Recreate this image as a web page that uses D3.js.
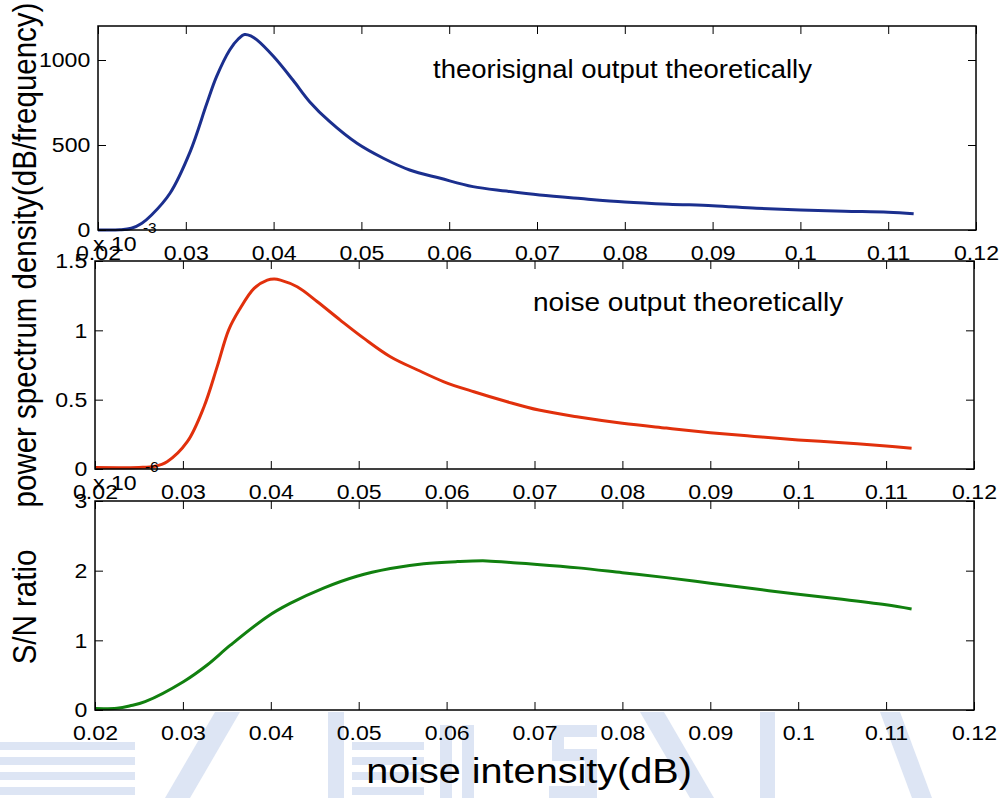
<!DOCTYPE html>
<html>
<head>
<meta charset="utf-8">
<script src="https://cdn.jsdelivr.net/npm/d3@7"></script>
<style>
  body { margin: 0; background: #fff; }
  text { font-family: "Liberation Sans", Arial, Helvetica, sans-serif; fill: #000; }
</style>
</head>
<body>
<svg id="chart" width="1004" height="798"></svg>
<script>
// --- data ---
const xTickValues = [0.02, 0.03, 0.04, 0.05, 0.06, 0.07, 0.08, 0.09, 0.1, 0.11, 0.12];
const xTickLabels = ["0.02", "0.03", "0.04", "0.05", "0.06", "0.07", "0.08", "0.09", "0.1", "0.11", "0.12"];

// signal output (top panel)
const signalX = [0.020, 0.0225, 0.0238, 0.0250, 0.0261, 0.0282, 0.0305, 0.0324, 0.0335, 0.0350, 0.0360, 0.0367, 0.0374, 0.0381,
  0.0400, 0.0422, 0.0441, 0.0464, 0.0495, 0.0525, 0.0555, 0.0590, 0.0627, 0.0665, 0.0703,
  0.075, 0.080, 0.085, 0.090, 0.095, 0.100, 0.105, 0.110, 0.1129];
const signalY = [0, 1, 10, 40, 88, 216, 461, 745, 902, 1059, 1125, 1150, 1142, 1118,
  1020, 882, 755, 637, 510, 422, 353, 304, 255, 229, 206,
  185, 165, 152, 143, 128, 117, 110, 105, 96];

// noise output (middle panel, x 10^-3)
const noiseX = [0.020, 0.0250, 0.0268, 0.0282, 0.0305, 0.0324, 0.0339, 0.0352, 0.0364, 0.0381, 0.0396, 0.0404, 0.0411,
  0.0430, 0.0453, 0.0479, 0.0506, 0.0536, 0.0567, 0.0597, 0.0631, 0.0669, 0.0705,
  0.075, 0.080, 0.085, 0.090, 0.095, 0.100, 0.105, 0.110, 0.1129];
const noiseY = [0.01, 0.011, 0.02, 0.053, 0.197, 0.449, 0.738, 1.002, 1.146, 1.303, 1.362, 1.37, 1.362,
  1.314, 1.206, 1.074, 0.942, 0.810, 0.714, 0.629, 0.557, 0.485, 0.425,
  0.375, 0.33, 0.295, 0.262, 0.235, 0.21, 0.19, 0.165, 0.15];

// S/N ratio (bottom panel, x 10^-6)
const snrX = [0.020, 0.0225, 0.0240, 0.0257, 0.0301, 0.0328, 0.0354, 0.0396, 0.0422, 0.0460, 0.0498, 0.0536, 0.0574, 0.0612,
  0.0646, 0.0680, 0.0703, 0.075, 0.080, 0.085, 0.090, 0.095, 0.100, 0.105, 0.110, 0.1129];
const snrY = [0.02, 0.025, 0.06, 0.12, 0.41, 0.65, 0.93, 1.34, 1.53, 1.75, 1.92, 2.03, 2.10, 2.13,
  2.14, 2.11, 2.09, 2.04, 1.97, 1.90, 1.82, 1.74, 1.66, 1.59, 1.51, 1.45];

const panels = [
  { left: 98, right: 976, top: 26, bottom: 230, yMax: 1200,
    yTicks: [0, 500, 1000], yLabels: ["0", "500", "1000"],
    xs: signalX, ys: signalY, color: "#1b2f8e" },
  { left: 95, right: 974, top: 261, bottom: 469, yMax: 1.5,
    yTicks: [0, 0.5, 1, 1.5], yLabels: ["0", "0.5", "1", "1.5"],
    xs: noiseX, ys: noiseY, color: "#e1300c" },
  { left: 95, right: 974, top: 501, bottom: 710, yMax: 3,
    yTicks: [0, 1, 2, 3], yLabels: ["0", "1", "2", "3"],
    xs: snrX, ys: snrY, color: "#11800f" }
];

const STRETCH = "scale(1.1,1)";
const svg = d3.select("#chart");

// faint logo watermark behind the lower part of the figure
const wm = svg.append("g").attr("fill", "#dde5f4");
[742, 757, 772, 787].forEach(yy => {
  wm.append("rect").attr("x", 0).attr("y", yy).attr("width", 135).attr("height", 8);
  wm.append("rect").attr("x", 352).attr("y", yy).attr("width", 72).attr("height", 8);
});
wm.append("polygon").attr("points", "165,798 190,798 240,712 215,712");
wm.append("rect").attr("x", 328).attr("y", 712).attr("width", 16).attr("height", 86);
wm.append("rect").attr("x", 440).attr("y", 725).attr("width", 12).attr("height", 73);
wm.append("rect").attr("x", 462).attr("y", 725).attr("width", 12).attr("height", 73);
wm.append("path").attr("d", "M552,725 h45 v12 h-33 v12 h33 v49 h-48 v-12 h36 v-25 h-33 z");
wm.append("polygon").attr("points", "640,712 664,712 714,798 690,798");
wm.append("rect").attr("x", 760).attr("y", 712).attr("width", 15).attr("height", 86);
wm.append("polygon").attr("points", "880,712 900,712 932,798 912,798");

panels.forEach(p => {
  const x = d3.scaleLinear().domain([0.02, 0.12]).range([p.left, p.right]);
  const y = d3.scaleLinear().domain([0, p.yMax]).range([p.bottom, p.top]);
  const g = svg.append("g");

  // curve
  const line = d3.line()
    .x((d, i) => x(p.xs[i]))
    .y(d => y(d))
    .curve(d3.curveCatmullRom.alpha(0.5));
  g.append("path")
    .datum(p.ys)
    .attr("d", line)
    .attr("fill", "none")
    .attr("stroke", p.color)
    .attr("stroke-width", 3)
    .attr("stroke-linejoin", "round");

  // axes, ticks pointing inwards like matlab
  const bottomAxis = g.append("g")
    .attr("transform", `translate(0,${p.bottom})`)
    .call(d3.axisBottom(x).tickValues(xTickValues)
      .tickFormat((d, i) => xTickLabels[i])
      .tickSizeInner(-8).tickSizeOuter(0).tickPadding(15));
  const topAxis = g.append("g")
    .attr("transform", `translate(0,${p.top})`)
    .call(d3.axisTop(x).tickValues(xTickValues).tickFormat("")
      .tickSizeInner(-8).tickSizeOuter(0));
  const leftAxis = g.append("g")
    .attr("transform", `translate(${p.left},0)`)
    .call(d3.axisLeft(y).tickValues(p.yTicks)
      .tickFormat((d, i) => p.yLabels[i])
      .tickSizeInner(-8).tickSizeOuter(0).tickPadding(7));
  const rightAxis = g.append("g")
    .attr("transform", `translate(${p.right},0)`)
    .call(d3.axisRight(y).tickValues(p.yTicks).tickFormat("")
      .tickSizeInner(-8).tickSizeOuter(0));

  [bottomAxis, topAxis, leftAxis, rightAxis].forEach(a => {
    a.select(".domain").remove();
    a.selectAll("line").attr("stroke", "#000").attr("stroke-width", 1);
    a.selectAll("text")
      .style("font-size", "21px")
      .attr("fill", "#000")
      .attr("transform", STRETCH);
  });

  // box
  g.append("rect")
    .attr("x", p.left).attr("y", p.top)
    .attr("width", p.right - p.left).attr("height", p.bottom - p.top)
    .attr("fill", "none").attr("stroke", "#000").attr("stroke-width", 1.5);
});

// helper for horizontally stretched text
function label(txt, x, y, size, rotate) {
  return svg.append("g")
    .attr("transform", `translate(${x},${y})` + (rotate ? ` rotate(${rotate})` : ""))
    .append("text")
    .attr("transform", rotate ? "scale(1,1.1)" : STRETCH)
    .style("font-size", size + "px")
    .text(txt);
}

// exponent labels (matlab style x 10^-n above each lower axes)
label("x 10", 93, 251, 21);
label("-3", 143, 233, 14);
label("x 10", 93, 490, 21);
label("-6", 145, 472, 14);

// annotations
label("theorisignal output theoretically", 433, 78, 25);
label("noise output theoretically", 533, 311, 25.5);

// axis titles
label("power spectrum density(dB/frequency)", 36, 255, 29.5, -90).attr("text-anchor", "middle");
label("S/N ratio", 36, 607, 29.5, -90).attr("text-anchor", "middle");
label("noise intensity(dB)", 529, 783, 36).attr("text-anchor", "middle");
</script>
</body>
</html>
